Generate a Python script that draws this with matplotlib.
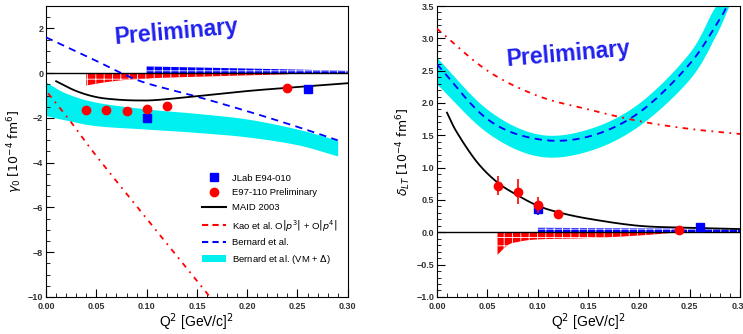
import numpy as np
import matplotlib.pyplot as plt
from matplotlib.lines import Line2D
from matplotlib.patches import Patch
from matplotlib.ticker import MultipleLocator

plt.rcParams['font.family'] = ['Liberation Sans', 'DejaVu Sans']
plt.rcParams['hatch.linewidth'] = 0.6

# ---- left panel: gamma_0 ----
g_jlab_x = [0.10, 0.26]
g_jlab_y = [-2.0, -0.7]
g_jlab_err = [0.1, 0.1]
g_e97_x = [0.04, 0.06, 0.08, 0.10, 0.12, 0.24]
g_e97_y = [-1.65, -1.65, -1.7, -1.6, -1.45, -0.65]
g_e97_err = [0.05, 0.05, 0.2, 0.05, 0.05, 0.05]
g_maid_x = [0.01, 0.03, 0.05, 0.07, 0.09, 0.11, 0.15, 0.20, 0.25, 0.30]
g_maid_y = [-0.36, -0.8, -1.07, -1.18, -1.22, -1.2, -1.03, -0.8, -0.62, -0.45]
g_kao_x = [0.002, 0.025, 0.05, 0.1, 0.163]
g_kao_y = [-0.9, -2.2, -3.7, -6.5, -10.0]
g_bern_x = [0.0, 0.05, 0.075, 0.1, 0.15, 0.2, 0.25, 0.29]
g_bern_y = [1.6, 0.55, 0.0, -0.45, -1.05, -1.7, -2.4, -3.0]
g_band_x = [0.0, 0.02, 0.05, 0.1, 0.15, 0.2, 0.25, 0.29]
g_band_hi = [-0.4, -0.9, -1.3, -1.6, -1.8, -2.05, -2.5, -3.0]
g_band_lo = [-1.9, -2.1, -2.35, -2.5, -2.65, -2.85, -3.2, -3.7]
g_sys_red_x = [0.04, 0.06, 0.08, 0.10, 0.12, 0.24]
g_sys_red_y = [-0.55, -0.4, -0.3, -0.25, -0.2, -0.05]
g_sys_blue_x = [0.10, 0.26, 0.30]
g_sys_blue_y = [0.3, 0.15, 0.1]

# ---- right panel: delta_LT ----
d_jlab_x = [0.10, 0.26]
d_jlab_y = [0.36, 0.08]
d_jlab_err = [0.1, 0.03]
d_e97_x = [0.06, 0.08, 0.10, 0.12, 0.24]
d_e97_y = [0.72, 0.63, 0.42, 0.29, 0.04]
d_e97_err = [0.15, 0.2, 0.12, 0.04, 0.02]
d_maid_x = [0.01, 0.02, 0.04, 0.06, 0.08, 0.10, 0.12, 0.15, 0.20, 0.25, 0.30]
d_maid_y = [1.85, 1.54, 1.08, 0.77, 0.57, 0.41, 0.31, 0.21, 0.10, 0.07, 0.05]
d_kao_x = [0.0, 0.05, 0.10, 0.15, 0.20, 0.25, 0.30]
d_kao_y = [3.15, 2.5, 2.11, 1.9, 1.72, 1.6, 1.52]
d_bern_x = [0.0, 0.05, 0.10, 0.15, 0.20, 0.25, 0.28, 0.287]
d_bern_y = [2.6, 1.75, 1.44, 1.48, 1.85, 2.6, 3.3, 3.5]
d_band_x = [0.0, 0.05, 0.10, 0.15, 0.20, 0.25, 0.276, 0.289]
d_band_hi = [2.7, 1.9, 1.52, 1.6, 2.0, 2.78, 3.5, 3.5]
d_band_lo = [2.29, 1.54, 1.18, 1.26, 1.65, 2.37, 3.05, 3.5]
d_sys_red_x = [0.06, 0.07, 0.08, 0.10, 0.15, 0.20, 0.24]
d_sys_red_y = [-0.35, -0.2, -0.15, -0.11, -0.09, -0.05, 0.0]
d_sys_blue_x = [0.10, 0.30]
d_sys_blue_y = [0.07, 0.05]

legend_labels = ['JLab E94-010', 'E97-110 Preliminary', 'MAID 2003',
                 r'Kao et al. O$\left|p^3\right|$ + O$\left|p^4\right|$',
                 'Bernard et al.', r'Bernard et al. (VM + $\Delta$)']


def spline(x, y, n=20):
    # Catmull-Rom through the read points, just to draw smooth curves
    x = np.asarray(x, float)
    y = np.asarray(y, float)
    px = np.concatenate([[2 * x[0] - x[1]], x, [2 * x[-1] - x[-2]]])
    py = np.concatenate([[2 * y[0] - y[1]], y, [2 * y[-1] - y[-2]]])
    t = np.linspace(0, 1, n, endpoint=False)[:, None]
    out_x, out_y = [], []
    for i in range(1, len(px) - 2):
        for p, o in ((px, out_x), (py, out_y)):
            p0, p1, p2, p3 = p[i - 1], p[i], p[i + 1], p[i + 2]
            v = 0.5 * (2 * p1 + (-p0 + p2) * t + (2 * p0 - 5 * p1 + 4 * p2 - p3) * t ** 2
                       + (-p0 + 3 * p1 - 3 * p2 + p3) * t ** 3)
            o.extend(v.ravel())
    out_x.append(x[-1])
    out_y.append(y[-1])
    return np.array(out_x), np.array(out_y)


def draw(ax, d):
    bx, bhi = spline(d['bx'], d['bhi'])
    _, blo = spline(d['bx'], d['blo'])
    ax.fill_between(bx, blo, bhi, color='#00f0f0', lw=0, zorder=1)
    rx, ry = spline(d['rx'], d['ry'])
    ax.fill_between(rx, 0, ry, facecolor='red', edgecolor='white',
                    hatch='++', lw=0, zorder=2)
    ax.fill_between(d['ux'], 0, d['uy'], facecolor='blue', edgecolor='white',
                    hatch='++', lw=0, zorder=2)
    ax.axhline(0, color='black', lw=1, zorder=3)
    ax.plot(*spline(d['kx'], d['ky']), color='red', ls=(0, (3, 3, 1, 3)), lw=1.3, zorder=3)
    ax.plot(*spline(d['nx'], d['ny']), color='blue', ls=(0, (4, 3)), lw=1.3, zorder=4)
    ax.plot(*spline(d['mx'], d['my']), color='black', lw=1.3, zorder=4)
    ax.errorbar(d['jx'], d['jy'], yerr=d['je'], fmt='s', color='blue', ms=6,
                elinewidth=1.2, zorder=5)
    ax.errorbar(d['ex'], d['ey'], yerr=d['ee'], fmt='o', color='red', ms=6,
                elinewidth=1.2, zorder=6)
    ax.set_xlim(0, 0.3)
    ax.xaxis.set_major_locator(MultipleLocator(0.05))
    ax.xaxis.set_minor_locator(MultipleLocator(0.01))
    ax.tick_params(which='both', direction='in', labelsize=6.5, pad=2,
                   labelcolor='#333333')
    ax.tick_params(axis='x', pad=4)
    ax.tick_params(which='major', length=6)
    ax.tick_params(which='minor', length=3)
    for lab in ax.get_xticklabels() + ax.get_yticklabels():
        lab.set_fontweight('bold')
    ax.set_xlabel(r'Q$^2$ [GeV/c]$^2$', fontsize=10, labelpad=0)


fig = plt.figure(figsize=(7.43, 3.34), dpi=100)
ax1 = fig.add_axes([0.062, 0.111, 0.406, 0.871])
ax2 = fig.add_axes([0.588, 0.111, 0.408, 0.871])

draw(ax1, dict(bx=g_band_x, blo=g_band_lo, bhi=g_band_hi,
               rx=g_sys_red_x, ry=g_sys_red_y, ux=g_sys_blue_x, uy=g_sys_blue_y,
               kx=g_kao_x, ky=g_kao_y, nx=g_bern_x, ny=g_bern_y,
               mx=g_maid_x, my=g_maid_y,
               jx=g_jlab_x, jy=g_jlab_y, je=g_jlab_err,
               ex=g_e97_x, ey=g_e97_y, ee=g_e97_err))
ax1.set_ylim(-10, 3)
ax1.yaxis.set_major_locator(MultipleLocator(2))
ax1.yaxis.set_minor_locator(MultipleLocator(0.5))
ax1.set_ylabel(r'$\gamma_0$ $\left[10^{-4}\ \mathrm{fm}^6\right]$', fontsize=9, labelpad=2)
ax1.text(0.13, 1.85, 'Preliminary', color='#2020ee', fontsize=16.5, fontweight='bold',
         rotation=5, ha='center', va='center')

draw(ax2, dict(bx=d_band_x, blo=d_band_lo, bhi=d_band_hi,
               rx=d_sys_red_x, ry=d_sys_red_y, ux=d_sys_blue_x, uy=d_sys_blue_y,
               kx=d_kao_x, ky=d_kao_y, nx=d_bern_x, ny=d_bern_y,
               mx=d_maid_x, my=d_maid_y,
               jx=d_jlab_x, jy=d_jlab_y, je=d_jlab_err,
               ex=d_e97_x, ey=d_e97_y, ee=d_e97_err))
ax2.set_ylim(-1, 3.5)
ax2.yaxis.set_major_locator(MultipleLocator(0.5))
ax2.yaxis.set_minor_locator(MultipleLocator(0.1))
ax2.set_ylabel(r'$\delta_{LT}$ $\left[10^{-4}\ \mathrm{fm}^6\right]$', fontsize=9, labelpad=2)
ax2.text(0.13, 2.75, 'Preliminary', color='#2020ee', fontsize=16.5, fontweight='bold',
         rotation=5, ha='center', va='center')

handles = [Line2D([], [], marker='s', color='blue', ls='none', ms=6),
           Line2D([], [], marker='o', color='red', ls='none', ms=6),
           Line2D([], [], color='black', lw=1.5),
           Line2D([], [], color='red', ls=(0, (3, 2)), lw=1.5),
           Line2D([], [], color='blue', ls=(0, (3, 2)), lw=1.5),
           Patch(facecolor='#00f0f0', edgecolor='none')]
ax1.legend(handles, legend_labels, loc='upper left', bbox_to_anchor=(0.5, 0.44),
           frameon=False, fontsize=6.8, handlelength=2.6, labelspacing=0.6,
           handletextpad=0.6, borderpad=0)

fig.savefig('out.png', dpi=100)
